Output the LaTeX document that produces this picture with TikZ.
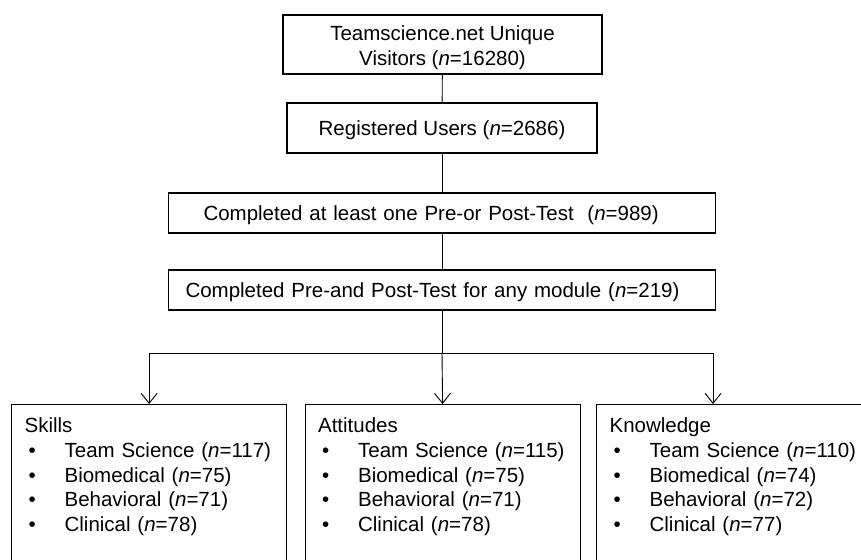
\documentclass[tikz,border=0pt]{standalone}
\usepackage{fontspec}
\setmainfont{Liberation Sans}
\usepackage{tikz}
\usetikzlibrary{positioning, arrows.meta}

\newcommand{\nval}[1]{(\textit{n}=#1)}
\newcommand{\bitem}[1]{\\\hspace*{4pt}\makebox[36pt][l]{\textbullet}#1}

\begin{document}
\begin{tikzpicture}[x=1pt, y=-1pt,
    every node/.style={font=\fontsize{20.5}{24.6}\selectfont},
    stagebox/.style={draw, line width=1.2pt, inner ysep=0pt, text height=15pt, text depth=0pt},
    groupbox/.style={draw, line width=1.2pt, anchor=north west, align=left,
        text width=249pt, inner xsep=13pt, inner ysep=13.5pt},
    link/.style={line width=0.9pt},
    arrow/.style={link, -{Straight Barb[length=10pt,width=16pt]}}]

\useasboundingbox (0,0) rectangle (861,559);
\clip (0,0) rectangle (861,559);

% Stages of the funnel
\node[draw, line width=1.2pt, inner ysep=0pt, align=center, minimum width=319pt, minimum height=59pt] (visitors) at (442.5,44.5)
    {\rule{0pt}{21pt}Teamscience.net Unique\\Visitors \nval{16280}};
\node[stagebox, minimum width=310pt, minimum height=50pt] (users) at (442,128)
    {Registered Users \nval{2686}};
\node[stagebox, align=left, text width=477pt, inner xsep=35pt, minimum height=40pt] (onetest) at (442,213)
    {Completed at least one Pre-or Post-Test~~\nval{989}};
\node[stagebox, align=left, text width=513pt, inner xsep=17pt, minimum height=40pt] (bothtests) at (442,290)
    {Completed Pre-and Post-Test for any module \nval{219}};

% Three groups at the bottom
\node[groupbox] (skills) at (11,404)
    {Skills\bitem{Team Science \nval{117}}\bitem{Biomedical \nval{75}}%
     \bitem{Behavioral \nval{71}}\bitem{Clinical \nval{78}}\\[60pt]\mbox{}};
\node[groupbox] (attitudes) at (304.5,404)
    {Attitudes\bitem{Team Science \nval{115}}\bitem{Biomedical \nval{75}}%
     \bitem{Behavioral \nval{71}}\bitem{Clinical \nval{78}}\\[60pt]\mbox{}};
\node[groupbox] (knowledge) at (596,404)
    {Knowledge\bitem{Team Science \nval{110}}\bitem{Biomedical \nval{74}}%
     \bitem{Behavioral \nval{72}}\bitem{Clinical \nval{77}}\\[60pt]\mbox{}};

\coordinate (hub) at (442,353);
\coordinate (knowin) at (713,404);

\draw[link] (visitors) -- (users);
\draw[link] (users) -- (onetest);
\draw[link] (onetest) -- (bothtests);
\draw[link] (bothtests.south) -- (hub);
\draw[arrow] (hub) -| (skills.north);
\draw[arrow] (hub) -- (attitudes.north);
\draw[arrow] (hub) -| (knowin);
\end{tikzpicture}
\end{document}
